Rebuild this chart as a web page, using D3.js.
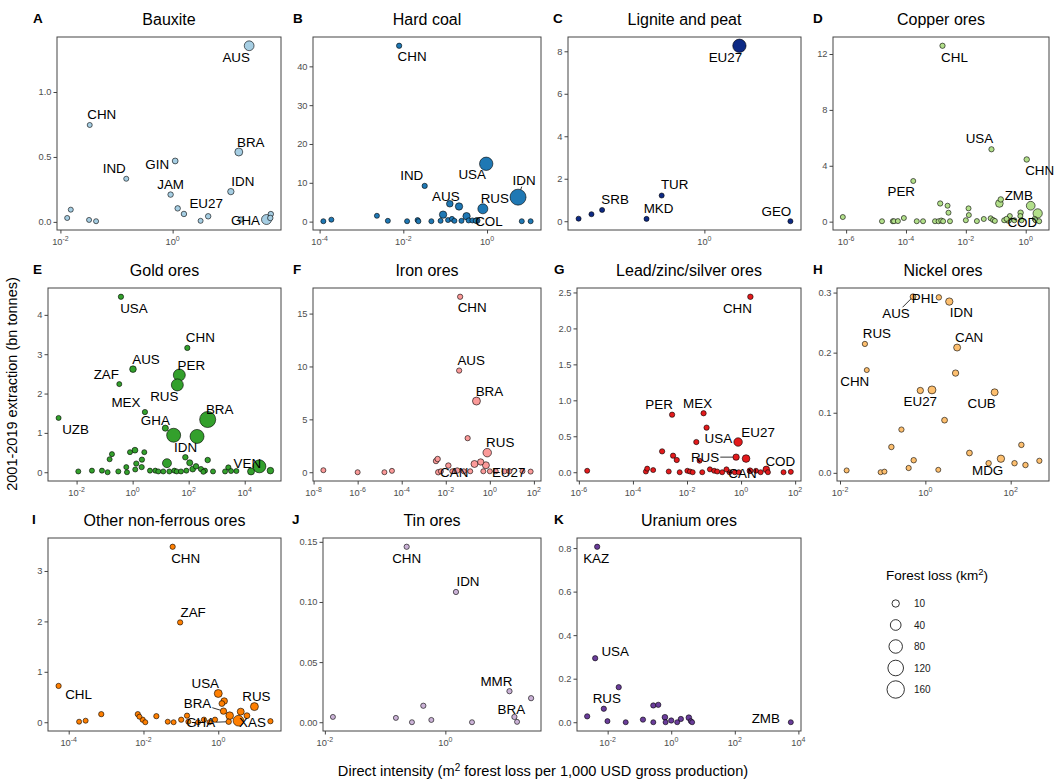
<!DOCTYPE html>
<html><head><meta charset="utf-8">
<script src="https://cdn.jsdelivr.net/npm/d3@7"></script>
<style>
body{margin:0;background:#fff;}
text{font-family:"Liberation Sans",Arial,Helvetica,sans-serif;}
</style>
</head><body>
<svg id="chart" width="1054" height="780"></svg>
<script>
// ---------------- DATA ----------------
// each point: [country, direct intensity (m2 per 1000 USD), extraction 2001-2019 (bn t), forest loss (km2)]
const commodities = ["Bauxite","Hard coal","Lignite and peat","Copper ores","Gold ores","Iron ores",
  "Lead/zinc/silver ores","Nickel ores","Other non-ferrous ores","Tin ores","Uranium ores"];
const tags = ["A","B","C","D","E","F","G","H","I","J","K"];
const colors = ["#a6cee3","#1f78b4","#0d2a85","#b2df8a","#33a02c","#fb9a99","#e31a1c","#fdbf6f","#ff7f00","#cab2d6","#6a3d9a"];

const bauxite = [
 ["AUS",23.1,1.356,30],["CHN",0.0333,0.746,1],["BRA",15.1,0.538,14],["GIN",1.11,0.469,3],
 ["IND",0.149,0.332,1],["IDN",10.9,0.233,5],["JAM",0.92,0.21,2],["",1.23,0.104,2],["",1.59,0.061,2],
 ["EU27",4.3,0.043,2],["",3.15,0.008,1],["",0.0153,0.094,1],["",0.0132,0.03,1],["",0.0324,0.015,1],
 ["",0.0432,0.005,1],["GHA",47.1,0.018,32],["",16.4,0.018,2],["",56.2,0.06,2],["",55,0.03,2]
];
const hardCoal = [
 ["CHN",0.00794,45.3,1.5],["IND",0.0324,9.2,1.5],["USA",0.955,14.9,78],["IDN",5.5,6.3,128],
 ["RUS",0.794,3.3,32],["AUS",0.129,4.6,6],["",0.214,3.9,10],["",0.089,1.8,10],["",0.324,1.4,10],
 ["COL",0.575,0.3,4],["",0.000123,0.1,1],["",0.000191,0.5,1],["",0.00234,1.5,1],["",0.00427,0.2,1],
 ["",0.0123,0.1,1],["",0.0219,0.4,1],["",0.0229,0.1,1],["",0.0468,0.1,1],["",0.0776,0.2,1],
 ["",0.117,0.4,1],["",0.145,0.7,1],["",0.166,0.2,1],["",0.245,0.2,1],["",0.363,0.3,1],
 ["",0.447,0.3,1],["",0.537,0.2,1],["",6.76,0.1,1],["",11.0,0.1,1]
];
const ligniteAndPeat = [
 ["EU27",2.76,8.26,78],["TUR",0.29,1.21,1],["MKD",0.187,0.11,1],["SRB",0.0516,0.53,1],
 ["",0.0379,0.33,1],["",0.0261,0.12,1],["GEO",12.1,0.0,1]
];
const copperOres = [
 ["CHL",0.00166,12.59,1.5],["USA",0.0718,5.18,1.5],["CHN",1.08,4.45,2],["PER",0.000175,2.91,1],
 ["ZMB",0.147,1.59,2],["",0.132,1.30,12],["",1.47,1.14,20],["",2.51,0.59,25],["",7.76e-7,0.33,1],
 ["",0.00139,1.30,1.5],["",0.00245,1.14,1],["",0.00263,0.64,1],["",0.0123,0.95,1],["",0.0126,0.47,1],
 ["",8.5e-5,0.26,1],["",0.0398,0.19,1],["",0.0676,0.24,1],["",0.676,0.64,2],["",0.295,0.40,1],
 ["COD",0.263,0.12,6],["",0.661,0.40,1],["",1.58e-5,0.03,1],["",3.63e-5,0.03,1],["",3.98e-5,0.03,1],
 ["",5.37e-5,0.04,1],["",2.29e-4,0.03,1],["",3.72e-4,0.03,1],["",9.33e-4,0.03,1],["",1.23e-3,0.03,1],
 ["",1.51e-3,0.08,1],["",1.74e-3,0.03,1],["",2.95e-3,0.03,1],["",0.01,0.1,1],["",0.0234,0.04,1],
 ["",0.0813,0.12,1],["",0.0933,0.05,1],["",0.191,0.1,1],["",0.229,0.2,1],["",0.417,0.1,1],
 ["",0.724,0.1,1],["",2.0,0.2,1],["",2.14,0.1,1],["",2.82,0.03,1]
];
const goldOres = [
 ["USA",0.383,4.46,1.5],["CHN",89.5,3.16,1.5],["AUS",1.03,2.62,6],["ZAF",0.334,2.24,1],
 ["PER",46.4,2.47,57],["RUS",39.4,2.22,57],["MEX",2.75,1.53,1.5],["BRA",477,1.34,130],
 ["UZB",0.00228,1.38,1],["GHA",14.7,1.12,4],["IDN",29.1,0.94,89],["",199,0.91,89],["",16.8,0.23,22],
 ["VEN",33400,0.15,72],["",16800,0.02,8],["",82600,0.04,6],["",76,0.38,2],["",109,0.24,4],["",477,0.31,2],
 ["",0.183,0.46,1],["",0.151,0.33,1],["",0.804,0.51,1],["",1.21,0.56,3],["",2.61,0.51,1],["",2.15,0.32,1.5],
 ["",1.35,0.22,1.5],["",2.1,0.13,1.5],["",0.594,0.13,1],["",183,0.15,2],["",275,0.08,1.5],["",383,0.04,1],
 ["",2610,0.12,1.5],["",0.0115,0.02,1],["",0.0353,0.04,1],["",0.0804,0.04,1],["",0.128,0.0,1],
 ["",0.308,0.02,1],["",0.628,0.0,1],["",1.24,0.07,1],["",4.16,0.04,1],["",6.45,0.04,1],["",8.26,0.02,1],
 ["",12.4,0.02,1],["",20.4,0.02,1],["",30.8,0.04,1],["",37.3,0.02,1],["",53.2,0.02,1],["",82.6,0.04,1],
 ["",139,0.08,3],["",334,0.01,1],["",740,0.02,1],["",1990,0.02,1],["",3250,0.03,1],["",5040,0.03,1]
];
const ironOres = [
 ["CHN",0.0449,16.59,1.5],["AUS",0.0405,9.61,1.5],["BRA",0.247,6.73,14],["",0.0984,3.22,1.5],
 ["RUS",0.761,1.85,18],["",0.201,0.78,8],["",0.385,0.97,5],["",0.664,0.66,8],["",0.0036,1.06,2],
 ["",0.00427,1.25,2],["",0.0131,0.63,2],["",2.78e-8,0.19,1],["",1e-6,0.0,1],["",1.64e-5,0.0,1],
 ["",3.6e-5,0.13,1],["CAN",0.00456,0.0,2],["",0.006,0.09,1],["",0.0198,0.09,1],["",0.033,0.16,2],
 ["",0.0653,0.09,1],["",0.129,0.09,1],["",0.506,0.09,1],["",1.0,0.09,1],["",1.85,0.09,1],
 ["",4.64,0.09,1],["",7.74,0.09,1],["",30.3,0.1,1],["EU27",71.1,0.06,1]
];
const leadZincSilverOres = [
 ["CHN",2.21,2.44,2],["PER",0.00281,0.80,1.5],["MEX",0.041,0.82,1.5],["",0.053,0.62,1.5],
 ["USA",0.0221,0.42,1.5],["EU27",0.776,0.42,18],["",0.0012,0.29,1.5],["",0.00305,0.23,1.5],
 ["",0.00417,0.17,1.5],["RUS",0.655,0.21,5],["",1.53,0.19,12],["",0.0292,0.16,1],["COD",8.57,0.04,6],
 ["CAN",0.372,0.0,1],["",2.03e-6,0.02,1],["",3.01e-4,0.01,1],["",3.37e-4,0.05,1],["",5.6e-4,0.03,1],
 ["",0.00211,0.01,1],["",0.00537,0.0,1],["",0.0103,0.02,1],["",0.0129,0.01,1],["",0.0162,0.0,1],
 ["",0.0366,0.0,1],["",0.0703,0.04,1],["",0.101,0.02,1],["",0.131,0.01,1],["",0.2,0.0,1],
 ["",0.288,0.04,1],["",0.585,0.0,1],["",0.82,0.0,1],["",2.14,0.02,3],["",3.56,0.02,1],["",5.3,0.0,1],
 ["",9.86,0.0,1],["",37.2,0.0,1],["",69.2,0.005,1]
];
const nickelOres = [
 ["AUS",0.515,0.293,3],["PHL",2.07,0.292,2],["IDN",3.64,0.285,10],["RUS",0.0383,0.2145,1.5],
 ["CHN",0.0424,0.171,1],["CAN",5.56,0.2085,8],["",5.11,0.166,5],["EU27",0.762,0.137,5],["",1.43,0.138,14],
 ["CUB",42.1,0.134,8],["",2.82,0.0876,3],["",0.275,0.072,1.5],["",0.16,0.043,2],["",10.8,0.033,3],
 ["",178,0.0465,2],["",59,0.0235,10],["",0.533,0.021,2],["MDG",30.4,0.016,2],["",123,0.016,2],
 ["",222,0.013,2],["",470,0.02,1.5],["",0.0143,0.004,1],["",0.0895,0.001,1],["",0.11,0.002,1],
 ["",0.406,0.008,1.5],["",2.01,0.005,1]
];
const otherNonFerrousOres = [
 ["CHN",0.0603,3.48,1.5],["ZAF",0.0955,1.98,1.5],["CHL",5.37e-5,0.72,1.5],["USA",1.0,0.57,14],
 ["RUS",9.27,0.31,14],["",1.44,0.42,6],["",1.25,0.37,3],["BRA",1.38,0.22,5],["",2.02,0.13,12],
 ["",3.99,0.21,8],["",5.85,0.13,3],["XAS",3.47,0.03,40],["GHA",1.9,0.01,2],["",24.8,0.02,1.5],
 ["",1.9e-4,0.01,1],["",2.84e-4,0.03,1],["",7.43e-4,0.16,1.5],["",0.00705,0.16,1.5],["",0.00778,0.11,1],
 ["",0.0095,0.05,1.5],["",0.0112,0.0,1],["",0.0221,0.12,1.5],["",0.0446,0.01,1],["",0.064,0.0,1],
 ["",0.102,0.05,1.5],["",0.146,0.13,1.5],["",0.158,0.01,1],["",0.414,0.05,1.5],["",0.582,0.0,1],
 ["",0.818,0.05,1.5],["",0.288,0.0,1]
];
const tinOres = [
 ["CHN",0.228,0.1459,1.5],["IDN",1.5,0.1083,1.5],["MMR",11.6,0.0258,1.5],["BRA",14.0,0.0044,1.5],
 ["",15.5,0.0003,1],["",26.5,0.020,1.5],["",0.0136,0.0044,1],["",0.151,0.0036,1],["",0.279,0.0,1],
 ["",0.431,0.0137,1.5],["",0.585,0.0019,1],["",2.77,0.0,1]
];
const uraniumOres = [
 ["KAZ",0.00468,0.806,1.5],["USA",0.00405,0.294,1.5],["",0.0223,0.161,1.5],["RUS",0.00757,0.062,1.5],
 ["",0.00227,0.027,1.5],["",0.00986,0.005,1],["",0.037,0.0,1],["",0.129,0.012,1.5],["",0.273,0.077,1.5],
 ["",0.391,0.08,1.5],["",0.273,0.0,1],["",0.633,0.023,2.5],["",0.664,0.0,1],["",1.0,0.008,1.5],
 ["",1.54,0.0,1],["",2.01,0.015,1.5],["",3.58,0.021,2.5],["",4.14,0.005,1],["",4.55,0.0,1],["ZMB",5780,0.0,1]
];
const panelData = [bauxite,hardCoal,ligniteAndPeat,copperOres,goldOres,ironOres,leadZincSilverOres,
  nickelOres,otherNonFerrousOres,tinOres,uraniumOres];

// y-axis tick values per panel
const yTickValues = [[0,0.5,1.0],[0,10,20,30,40],[0,2,4,6,8],[0,4,8,12],[0,1,2,3,4],[0,5,10,15],
  [0,0.5,1.0,1.5,2.0,2.5],[0,0.1,0.2,0.3],[0,1,2,3],[0,0.05,0.10,0.15],[0,0.2,0.4,0.6,0.8]];
const yTickFormats = [".1f","d","d","d","d","d",".1f",".1f","d",".2f",".1f"];
const legendValues = [10,40,80,120,160];

// ---------------- LAYOUT (styling) ----------------
const rows = [[37,230],[288,481],[538,731]];
const boxes = [
 {x0:57,x1:281,r:0,tx:33},{x0:313,x1:541,r:0,tx:293},{x0:568,x1:801,r:0,tx:553},{x0:833,x1:1049,r:0,tx:813},
 {x0:48,x1:281,r:1,tx:33},{x0:313,x1:541,r:1,tx:293},{x0:577,x1:801,r:1,tx:554},{x0:837,x1:1049,r:1,tx:813},
 {x0:48,x1:281,r:2,tx:32},{x0:323,x1:541,r:2,tx:292},{x0:577,x1:801,r:2,tx:554}
];
// label offsets [dx, dy, drawSegment]
const labelOffsets = [
 {AUS:[-13,12],CHN:[12,-10],BRA:[12,-10],GIN:[-18,4],IND:[-12,-10],IDN:[12,-10],JAM:[0,-10],EU27:[-2,-13],GHA:[-21,1]},
 {CHN:[13,11],IND:[-13,-10],USA:[-14,11],IDN:[6,-17,1],RUS:[12,-10],AUS:[-4,-7],COL:[12,1]},
 {EU27:[-14,12],TUR:[13,-11],MKD:[12,-10],SRB:[13,-10],GEO:[-14,-10]},
 {CHL:[12,12],USA:[-12,-11],CHN:[13,11],PER:[-12,11],ZMB:[18,-4],COD:[14,3]},
 {USA:[13,12],CHN:[13,-10],AUS:[13,-10],ZAF:[-13,-10],PER:[12,-10],RUS:[-13,12],MEX:[-19,-10],BRA:[12,-10],UZB:[17,12],GHA:[-10,-8],IDN:[12,12],VEN:[-12,-3]},
 {CHN:[12,11],AUS:[12,-10],BRA:[13,-10],RUS:[13,-10],CAN:[16,0],EU27:[-22,1]},
 {CHN:[-13,12],PER:[-13,-10],MEX:[-6,-10],USA:[22,-4],EU27:[20,-10],RUS:[-31,0,1],COD:[14,-8],CAN:[13,1,1]},
 {AUS:[-17,17,1],PHL:[-14,1],IDN:[12,11],RUS:[12,-10],CHN:[-12,11],CAN:[12,-10],EU27:[0,11],CUB:[-13,11],MDG:[-1,7]},
 {CHN:[13,12],ZAF:[13,-10],CHL:[20,9],USA:[-13,-10],RUS:[2,-10],BRA:[-26,-8,1],XAS:[14,2],GHA:[-28,1,1]},
 {CHN:[0,12],IDN:[12,-10],MMR:[-13,-10],BRA:[-3,-7]},
 {KAZ:[-1,12],USA:[20,-7],RUS:[3,-10],ZMB:[-25,-4]}
];

const svg = d3.select("#chart");
const size = d3.scaleSqrt().domain([0,160]).range([2.0,8.7]);
const frameCol = "#444", tickTextCol = "#4d4d4d";

panelData.forEach((data,i)=>{
  const b = boxes[i], [y0,y1] = rows[b.r];
  const g = svg.append("g");
  const lx = data.map(d=>Math.log10(d[1]));
  const [l0,l1] = d3.extent(lx), lr = l1-l0;
  const lo = l0-0.05*lr, hi = l1+0.05*lr;
  const x = d3.scaleLog().domain([Math.pow(10,lo),Math.pow(10,hi)]).range([b.x0,b.x1]);
  const [v0,v1] = d3.extent(data,d=>d[2]), vr = v1-v0;
  const y = d3.scaleLinear().domain([v0-0.05*vr,v1+0.05*vr]).range([y1,y0]);

  g.append("rect").attr("x",b.x0).attr("y",y0).attr("width",b.x1-b.x0).attr("height",y1-y0)
    .attr("fill","none").attr("stroke",frameCol).attr("stroke-width",1);

  const ya = g.append("g").attr("transform",`translate(${b.x0},0)`)
    .call(d3.axisLeft(y).tickValues(yTickValues[i]).tickFormat(d3.format(yTickFormats[i])).tickSize(3.5).tickPadding(2).tickSizeOuter(0));
  ya.select(".domain").remove();
  ya.selectAll("line").attr("stroke",frameCol);
  ya.selectAll("text").attr("fill",tickTextCol).attr("font-size",9.3).attr("font-family","Liberation Sans, Arial, sans-serif");

  const exps = [];
  for(let e=Math.ceil(lo/2)*2;e<=hi;e+=2) exps.push(e);
  const xa = g.append("g").attr("transform",`translate(0,${y1})`)
    .call(d3.axisBottom(x).tickValues(exps.map(e=>Math.pow(10,e))).tickFormat("").tickSize(3.5).tickSizeOuter(0));
  xa.select(".domain").remove();
  xa.selectAll("line").attr("stroke",frameCol);
  exps.forEach(e=>{
    const t = g.append("text").attr("x",x(Math.pow(10,e))).attr("y",y1+15).attr("text-anchor","middle")
      .attr("fill",tickTextCol).attr("font-size",9.3);
    t.append("tspan").text("10");
    t.append("tspan").attr("dy",-4).attr("font-size",7).text(String(e));
  });

  g.append("text").attr("x",(b.x0+b.x1)/2).attr("y",y0-12).attr("text-anchor","middle")
    .attr("font-size",16).attr("fill","#000").text(commodities[i]);
  g.append("text").attr("x",b.tx).attr("y",y0-14).attr("font-size",13.5).attr("font-weight","bold")
    .attr("fill","#000").text(tags[i]);

  const sorted = data.slice().sort((a,c)=>c[3]-a[3]);
  g.selectAll("circle.pt").data(sorted).join("circle").attr("class","pt")
    .attr("cx",d=>x(d[1])).attr("cy",d=>y(d[2])).attr("r",d=>size(d[3]))
    .attr("fill",colors[i]).attr("stroke","#000").attr("stroke-width",0.6);

  const offs = labelOffsets[i];
  data.filter(d=>d[0] && offs[d[0]]).forEach(d=>{
    const [dx,dy,seg] = offs[d[0]];
    const px = x(d[1]), py = y(d[2]);
    const t = g.append("text").attr("x",px+dx).attr("y",py+dy).attr("text-anchor","middle")
      .attr("dominant-baseline","central").attr("font-size",13.4).attr("fill","#000").text(d[0]);
    if(seg){
      const bb = t.node().getBBox();
      const cx = px+dx, cy = py+dy, hw = bb.width/2+1, hh = bb.height/2-1;
      const vx = px-cx, vy = py-cy;
      const s = Math.min(Math.abs(vx)>0?hw/Math.abs(vx):1e9, Math.abs(vy)>0?hh/Math.abs(vy):1e9);
      const len = Math.hypot(vx,vy), r = size(d[3]);
      const ex = px - vx/len*r, ey = py - vy/len*r;
      g.append("line").attr("x1",cx+vx*s).attr("y1",cy+vy*s).attr("x2",ex).attr("y2",ey)
        .attr("stroke","#000").attr("stroke-width",0.8);
    }
  });
});

svg.append("text").attr("transform","translate(17,384) rotate(-90)").attr("text-anchor","middle")
  .attr("font-size",14.5).attr("fill","#000").text("2001-2019 extraction (bn tonnes)");
const xt = svg.append("text").attr("x",543).attr("y",776).attr("text-anchor","middle").attr("font-size",14.6).attr("fill","#000");
xt.append("tspan").text("Direct intensity (m");
xt.append("tspan").attr("dy",-5).attr("font-size",10).text("2");
xt.append("tspan").attr("dy",5).text(" forest loss per 1,000 USD gross production)");

const lg = svg.append("g");
const lt = lg.append("text").attr("x",886).attr("y",580).attr("font-size",13.5).attr("fill","#000");
lt.append("tspan").text("Forest loss (km");
lt.append("tspan").attr("dy",-5).attr("font-size",9.5).text("2");
lt.append("tspan").attr("dy",5).text(")");
legendValues.forEach((v,k)=>{
  const cy = 603.5 + k*21.5;
  lg.append("circle").attr("cx",895.7).attr("cy",cy).attr("r",size(v)).attr("fill","#fff")
    .attr("stroke","#000").attr("stroke-width",0.8);
  lg.append("text").attr("x",914).attr("y",cy).attr("dominant-baseline","central")
    .attr("font-size",10).attr("fill","#1a1a1a").text(v);
});
</script>
</body></html>
